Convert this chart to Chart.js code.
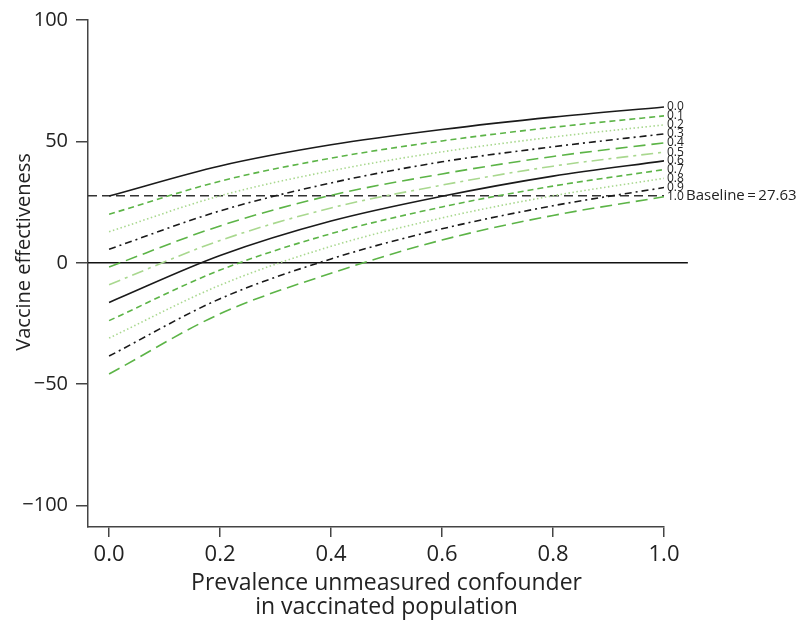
<!DOCTYPE html>
<html>
<head>
<meta charset="utf-8">
<script src="https://cdn.jsdelivr.net/npm/chart.js@4.4.1/dist/chart.umd.min.js"></script>
<style>
  body { margin: 0; background: #fff; }
  canvas { display: block; }
</style>
</head>
<body>
<canvas id="veChart" width="805" height="630"></canvas>
<script>
// prevalence of the confounder in vaccinated population (x)
const prevalence = [0, 0.2, 0.4, 0.6, 0.8, 1.0];

// one curve per prevalence in unvaccinated population
const curveLabels = ['0.0', '0.1', '0.2', '0.3', '0.4', '0.5', '0.6', '0.7', '0.8', '0.9', '1.0'];
const ve00 = [27.5, 39.9, 48.6, 54.9, 60.0, 64.2];
const ve01 = [20.0, 33.6, 43.1, 50.2, 55.8, 60.5];
const ve02 = [12.8, 27.6, 37.9, 45.7, 51.8, 56.8];
const ve03 = [5.6, 21.4, 32.9, 41.6, 47.8, 53.1];
const ve04 = [-1.7, 15.2, 27.8, 36.6, 43.8, 49.4];
const ve05 = [-9.0, 9.2, 22.6, 32.0, 39.8, 45.6];
const ve06 = [-16.3, 3.0, 17.2, 27.4, 35.7, 42.0];
const ve07 = [-23.8, -3.0, 12.0, 23.0, 31.6, 38.4];
const ve08 = [-31.0, -9.2, 6.8, 18.5, 27.6, 34.8];
const ve09 = [-38.4, -14.8, 1.6, 14.0, 23.5, 31.0];
const ve10 = [-45.8, -21.0, -4.3, 9.4, 19.5, 27.2];
const curves = [ve00, ve01, ve02, ve03, ve04, ve05, ve06, ve07, ve08, ve09, ve10];

const baseline = 27.63;
const xTicks = [0, 0.2, 0.4, 0.6, 0.8, 1.0];
const yTicks = [-100, -50, 0, 50, 100];

const xMin = -0.038, xMax = 1.0;
const yMin = -108.8, yMax = 100;

const GREEN = '#5cb447';
const LIGHT = '#a9d88f';
const BLACK = '#1a1a1a';
// style cycle: solid, dashed, dotted, dash-dot, long dash, long dash-dot
const styles = [
    { color: BLACK, dash: [] },
    { color: GREEN, dash: [6, 4] },
    { color: LIGHT, dash: [1.5, 2.5] },
    { color: BLACK, dash: [7, 4, 2, 4] },
    { color: GREEN, dash: [12, 6] },
    { color: LIGHT, dash: [12, 5, 3, 5] }
];

const datasets = curves.map(function(vals, i) {
    const s = styles[i % styles.length];
    return {
        label: curveLabels[i],
        data: vals.map(function(v, j) { return { x: prevalence[j], y: v }; }),
        borderColor: s.color,
        borderDash: s.dash,
        borderWidth: 1.6,
        pointRadius: 0,
        cubicInterpolationMode: 'monotone'
    };
});

datasets.push({
    label: 'baseline',
    data: [{ x: xMin, y: baseline }, { x: xMax, y: baseline }],
    borderColor: '#333',
    borderDash: [9, 5],
    borderWidth: 1.3,
    pointRadius: 0
});

datasets.push({
    label: 'zero',
    data: [{ x: xMin, y: 0 }, { x: 1.043, y: 0 }],
    borderColor: '#111',
    borderWidth: 1.5,
    pointRadius: 0,
    clip: false
});

// curve labels, baseline label and axis titles
const endLabels = {
    id: 'endLabels',
    afterDatasetsDraw: function(chart) {
        const c = chart.ctx;
        const xs = chart.scales.x, ys = chart.scales.y;
        const x0 = xs.getPixelForValue(0), x1 = xs.getPixelForValue(1.0);
        c.save();
        c.fillStyle = '#222';
        c.textBaseline = 'middle';
        c.textAlign = 'left';
        c.font = '12px "Open Sans"';
        curves.forEach(function(vals, i) {
            c.fillText(curveLabels[i], x1 + 3, ys.getPixelForValue(vals[vals.length - 1]));
        });
        c.font = '15px "Open Sans"';
        c.fillText('Baseline\u2009=\u200927.63', x1 + 22, ys.getPixelForValue(baseline));

        c.textAlign = 'center';
        c.font = '23px "Open Sans"';
        const xc = (x0 + x1) / 2;
        c.fillText('Prevalence unmeasured confounder', xc, 583);
        c.fillText('in vaccinated population', xc, 607);

        c.translate(24, 252);
        c.rotate(-Math.PI / 2);
        c.font = '20px "Open Sans"';
        c.fillText('Vaccine effectiveness', 0, 0);
        c.restore();
    }
};

const ctx = document.getElementById('veChart').getContext('2d');
new Chart(ctx, {
    type: 'line',
    data: { datasets: datasets },
    plugins: [endLabels],
    options: {
        responsive: false,
        animation: false,
        layout: { padding: { top: 20, right: 141, left: 0, bottom: 0 } },
        plugins: {
            legend: { display: false },
            tooltip: { enabled: false }
        },
        scales: {
            x: {
                type: 'linear',
                min: xMin,
                max: xMax,
                afterBuildTicks: function(scale) {
                    scale.ticks = xTicks.map(function(v) { return { value: v }; });
                },
                afterFit: function(scale) { scale.height = 103; },
                grid: { drawOnChartArea: false, drawTicks: true, tickLength: 10, color: '#444', lineWidth: 1.5 },
                border: { display: true, color: '#444', width: 1.5 },
                ticks: {
                    padding: 5,
                    color: '#222',
                    font: { family: 'Open Sans', size: 22 },
                    callback: function(v) { return v.toFixed(1); }
                }
            },
            y: {
                type: 'linear',
                min: yMin,
                max: yMax,
                afterBuildTicks: function(scale) {
                    scale.ticks = yTicks.map(function(v) { return { value: v }; });
                },
                afterFit: function(scale) { scale.width = 88; },
                grid: { drawOnChartArea: false, drawTicks: true, tickLength: 12, color: '#444', lineWidth: 1.5 },
                border: { display: true, color: '#444', width: 1.5 },
                ticks: {
                    padding: 8,
                    color: '#222',
                    font: { family: 'Open Sans', size: 20 },
                    callback: function(v) { return v < 0 ? '\u2212' + Math.abs(v) : String(v); }
                }
            }
        }
    }
});
</script>
</body>
</html>
